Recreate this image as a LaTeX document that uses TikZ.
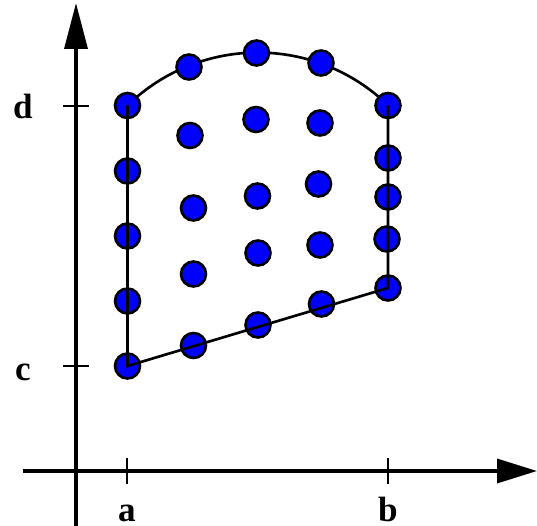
\documentclass[tikz,border=0pt]{standalone}
\usepackage{fontspec}
\setmainfont{Liberation Serif}
\usetikzlibrary{arrows.meta}

\begin{document}
\begin{tikzpicture}[
  x=0.02cm, y=-0.02cm,
  axis/.style={line width=2pt},
  vaxis/.style={axis, -{Triangle[length=0.92cm, width=0.46cm]}},
  haxis/.style={axis, -{Triangle[length=0.8cm, width=0.48cm]}},
  tick/.style={line width=1.5pt},
  lbl/.style={font=\fontsize{20}{24}\selectfont\bfseries, anchor=base, inner sep=0pt},
  edge/.style={line width=1.5pt},
  pt/.style={draw, circle, fill=blue, line width=1.5pt, minimum size=0.5cm, inner sep=0pt}
]
\useasboundingbox (0,0) rectangle (537,526);

% ==================== axes ====================
\coordinate (yfoot) at (76,526);
\coordinate (ytip) at (76,3);
\coordinate (xfoot) at (23,471);
\coordinate (xtip) at (537,471);
\draw[vaxis] (yfoot) -- (ytip);
\draw[haxis] (xfoot) -- (xtip);

\coordinate (ta) at (127,471);
\coordinate (tb) at (388,471);
\coordinate (tc) at (76,366);
\coordinate (td) at (76,106);
\draw[tick] (ta) ++(0,-13) -- ++(0,26);
\draw[tick] (tb) ++(0,-13) -- ++(0,26);
\draw[tick] (tc) ++(-13,0) -- ++(26,0);
\draw[tick] (td) ++(-13,0) -- ++(26,0);

\node[lbl] (la) at (127,521) {a};
\node[lbl] (lb) at (388,521) {b};
\node[lbl] (lc) at (23,380) {c};
\node[lbl] (ld) at (23,119) {d};

% ==================== top arc ====================
\coordinate (arcl) at (127.5,105.5);
\coordinate (arcr) at (388,105.5);
\draw[edge] (arcl) arc[start angle=-134.2, end angle=-45.8, radius=187];

% ==================== points ====================
% left side x = a
\node[pt] (l1) at (127.5,366) {};
\node[pt] (l2) at (127.5,301) {};
\node[pt] (l3) at (127.5,236) {};
\node[pt] (l4) at (127.5,171) {};
\node[pt] (l5) at (127.5,105.5) {};
% right side x = b
\node[pt] (r1) at (388,288) {};
\node[pt] (r2) at (387,239) {};
\node[pt] (r3) at (388,197) {};
\node[pt] (r4) at (388,158) {};
\node[pt] (r5) at (388,105.5) {};
% bottom line
\node[pt] (b1) at (193.5,345.5) {};
\node[pt] (b2) at (258,325) {};
\node[pt] (b3) at (321.5,304) {};
% top arc
\node[pt] (t1) at (189,67) {};
\node[pt] (t2) at (256.5,53) {};
\node[pt] (t3) at (321,63) {};
% interior
\node[pt] (i1) at (190,135.5) {};
\node[pt] (i2) at (256,119.5) {};
\node[pt] (i3) at (320,123) {};
\node[pt] (i4) at (193.5,208) {};
\node[pt] (i5) at (257.5,196) {};
\node[pt] (i6) at (318.5,184) {};
\node[pt] (i7) at (193.5,274) {};
\node[pt] (i8) at (258,253) {};
\node[pt] (i9) at (320,245) {};

% ==================== region edges ====================
\draw[edge] (l5.center) -- (l1.center) -- (r1.center) -- (r5.center);

\end{tikzpicture}
\end{document}
